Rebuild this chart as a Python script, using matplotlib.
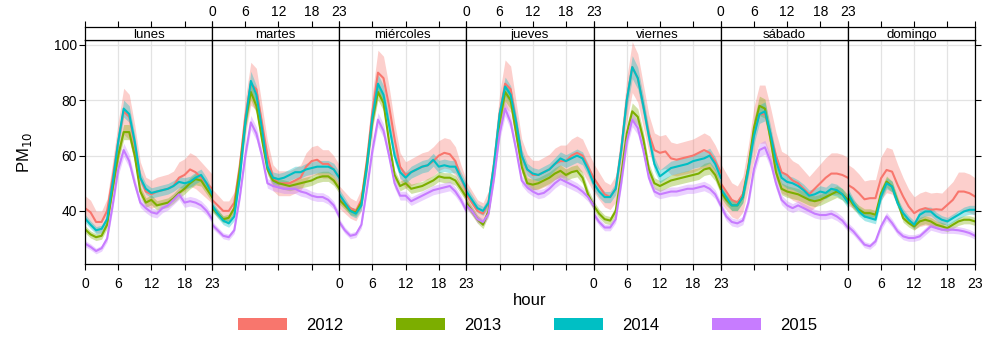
import matplotlib.pyplot as plt
from matplotlib.patches import Rectangle

plt.rcParams["font.family"] = ["Liberation Sans", "DejaVu Sans"]

# hourly PM10 means by weekday and year
days = ["lunes", "martes", "miércoles", "jueves", "viernes", "sábado", "domingo"]
hours = list(range(24))
years = ["2012", "2013", "2014", "2015"]
colors = ["#F8766D", "#7CAE00", "#00BFC4", "#C77CFF"]

pm_2012 = [
    [41, 39.5, 36, 36, 40, 52, 65, 76, 74, 64, 52, 47, 46, 47, 47.5, 48, 49, 52, 53, 55, 54, 52, 50, 48],
    [44, 42, 40, 40, 43, 56, 74, 86, 84, 72, 60, 52, 50, 50, 50, 51, 52, 56, 58, 58.5, 57, 57, 55, 52],
    [45, 43, 41, 40, 44, 58, 76, 90, 88, 78, 66, 56, 53, 54, 55, 56, 56.5, 58, 60, 61, 60.5, 58, 52, 47],
    [46, 43, 40, 39, 43, 57, 75, 86, 84, 72, 60, 55, 53, 53, 54, 55, 57, 58, 58, 60, 61, 60, 56, 52],
    [52, 49, 46, 45, 48, 62, 80, 92, 88, 78, 68, 62, 61, 61.5, 59, 58.5, 59, 59.5, 60, 61, 62, 61, 58, 54],
    [50, 47, 44, 43, 46, 56, 68, 75, 75, 68, 60, 54, 53, 51, 50, 48, 46, 48, 50, 52, 53.5, 53.5, 53, 52],
    [49.4, 48.2, 46.4, 44.2, 44.6, 44.6, 51.8, 54.8, 54.2, 49.4, 45.2, 41.6, 39.2, 40.4, 41, 40.4, 40.6, 40.4, 42.2, 44, 47, 47, 46.4, 45.2],
]
pm_2013 = [
    [33.4, 31.5, 30.5, 31, 35, 48, 60, 68.5, 68.5, 60, 47, 43, 44, 42, 42.5, 43, 44.5, 46.5, 48, 50, 51.5, 51, 48, 45],
    [41, 39, 37, 37.5, 41, 55, 72, 83, 78, 66, 55, 51, 50, 49.5, 49, 49.5, 50, 50.5, 51, 52, 52.5, 52.5, 51, 48],
    [44, 42, 40, 39.5, 43, 57, 73, 83, 79, 65, 53, 49, 50, 48, 48.5, 49, 50, 51, 52.5, 52, 52, 51, 48, 45],
    [43, 40, 37, 35, 40, 55, 72, 83, 80, 68, 56, 50, 49.5, 50, 51, 52, 53.5, 54.5, 53, 54, 54.5, 52, 46, 42],
    [42, 39, 37, 36.5, 40, 53, 68, 76, 74, 66, 55, 50, 49, 50, 51, 51.5, 52, 52.5, 53, 53.5, 55, 55.5, 53, 48],
    [47, 44, 42, 42, 45, 56, 70, 78, 77, 66, 54, 48, 47, 46.5, 46, 45, 44, 43.5, 44, 45, 46, 47, 46, 44],
    [45.2, 42.2, 40.4, 39.2, 39.2, 38.6, 46.4, 50.6, 48.8, 43.4, 37.4, 35.6, 34.4, 36.2, 36.8, 36.2, 35, 34.4, 33.8, 35, 36.2, 36.8, 36.8, 36.2],
]
pm_2014 = [
    [37.3, 35, 33, 33.5, 37, 50, 65, 77, 75, 65, 52, 48, 46.5, 47, 47.5, 48, 49, 50.5, 50, 50.5, 52, 53, 50, 46],
    [42, 39, 36.5, 35.5, 38, 52, 72, 87, 82, 70, 56, 52, 51.5, 52, 53, 54, 54, 55, 55.5, 56, 56, 56, 55, 52],
    [46, 43, 40, 39, 42, 56, 74, 86, 82, 71, 60, 54, 52, 54, 55, 56, 56.5, 58.5, 56, 56.5, 56, 56, 52, 48],
    [47, 44, 41, 40, 43, 57, 75, 85, 82, 72, 60, 55, 53.5, 53, 54, 55, 57, 59, 58, 59, 60, 59, 55, 50],
    [50, 47, 45, 45, 48, 62, 80, 92, 88, 78, 67, 57, 52.5, 54, 55.5, 56, 56.5, 57, 58, 58.5, 59, 60, 57, 52],
    [48, 45, 42, 42, 45, 55, 67, 75, 76, 68, 58, 52, 50.5, 50, 49, 47.5, 45.5, 46, 47, 46.5, 48, 47.5, 46, 43],
    [46.4, 42.8, 39.8, 38, 37.4, 36.8, 45.2, 50, 48.8, 42.8, 39.2, 36.8, 35, 38.6, 39.8, 39.8, 38, 36.8, 36.2, 37.4, 38.6, 39.8, 40.4, 40.4],
]
pm_2015 = [
    [28.2, 27, 25.5, 26.5, 30, 42, 55, 62, 58, 50, 43, 41, 39.5, 39, 41, 42, 44, 46, 43, 43.5, 43, 42, 40, 37],
    [35, 33, 31, 30.5, 33, 45, 60, 72, 68, 60, 50, 49, 48.5, 48, 48, 48, 47, 46.5, 45.5, 45, 45, 44, 42, 38],
    [36, 33, 31, 31.5, 35, 48, 62, 73, 69, 60, 50, 45.5, 45.5, 43.5, 44.5, 45.5, 46.5, 47.5, 48, 48.5, 49, 47, 44, 40],
    [42, 40, 37, 36, 39, 52, 68, 77, 72, 62, 51, 48.5, 47, 46, 46.5, 48, 50, 51.5, 50.5, 49.5, 48.5, 47, 45, 42],
    [39, 36, 34, 34, 37, 50, 65, 73, 70, 62, 52, 47, 46, 46.5, 47, 47, 47.5, 48, 48, 48.5, 49, 48, 46, 42],
    [42, 38, 36, 35.5, 36.5, 43, 55, 62, 63, 58, 50, 44, 42, 41, 42, 41, 40, 39, 38.5, 38.5, 39, 38, 36.5, 34],
    [34.4, 32.6, 30.2, 27.8, 27.2, 29, 34.4, 38, 35.6, 32.6, 30.8, 30.2, 30.2, 30.8, 32.6, 34.4, 33.8, 33.2, 33.2, 33.2, 33, 32.6, 32, 31],
]
all_pm = [pm_2012, pm_2013, pm_2014, pm_2015]

# relative half-width of the confidence band, per year and weekday
ci_2012 = [0.11, 0.09, 0.09, 0.10, 0.10, 0.14, 0.15]
ci_2013 = [0.04, 0.035, 0.035, 0.04, 0.04, 0.045, 0.04]
ci_2014 = [0.04, 0.04, 0.04, 0.04, 0.045, 0.045, 0.04]
ci_2015 = [0.04, 0.035, 0.035, 0.035, 0.035, 0.04, 0.04]
all_ci = [ci_2012, ci_2013, ci_2014, ci_2015]

W, H = 994, 339
fig = plt.figure(figsize=(W / 100, H / 100), dpi=100)

left_px, right_px = 85, 975
top_px, bottom_px, strip_px = 40, 264, 13
pw = (right_px - left_px) / 7

for d, day in enumerate(days):
    x0 = (left_px + d * pw) / W
    ax = fig.add_axes([x0, 1 - bottom_px / H, pw / W, (bottom_px - top_px) / H])
    for yi in range(len(years)):
        vals = all_pm[yi][d]
        rel = all_ci[yi][d]
        lo = [v * (1 - rel) for v in vals]
        hi = [v * (1 + rel) for v in vals]
        ax.fill_between(hours, lo, hi, color=colors[yi], alpha=0.35, lw=0)
    for yi in range(len(years)):
        ax.plot(hours, all_pm[yi][d], color=colors[yi], lw=1.5)

    ax.set_xlim(0, 23)
    ax.set_ylim(20.8, 101.8)
    ax.set_xticks([0, 6, 12, 18, 23])
    ax.set_yticks([40, 60, 80, 100])
    ax.grid(True, color="#e3e3e3", lw=0.9)
    ax.set_axisbelow(True)
    for sp in ax.spines.values():
        sp.set_linewidth(0.9)
    ax.tick_params(axis="both", direction="out", length=4, width=0.8,
                   labelsize=10, pad=2)
    ax.tick_params(axis="x", pad=5)
    ax.tick_params(axis="y", left=(d == 0), right=(d == 6),
                   labelleft=(d == 0), labelright=False)
    ax.tick_params(axis="x", labelbottom=(d % 2 == 0))
    if d == 0:
        ax.set_ylabel("PM$_{10}$", fontsize=12, labelpad=14)
    if d == 3:
        ax.set_xlabel("hour", fontsize=12, labelpad=17)

    # strip header with top tick marks
    sax = fig.add_axes([x0, 1 - top_px / H, pw / W, strip_px / H])
    sax.set_xlim(0, 23)
    sax.set_ylim(0, 1)
    sax.set_yticks([])
    sax.set_xticks([0, 6, 12, 18, 23])
    sax.tick_params(axis="x", bottom=False, labelbottom=False, top=True,
                    labeltop=(d % 2 == 1), direction="out", length=4,
                    width=0.8, labelsize=10, pad=2)
    for sp in sax.spines.values():
        sp.set_linewidth(0.9)
    sax.text(11.5, 0.42, day, ha="center", va="center", fontsize=9.5)

# legend along the bottom
for yi, year in enumerate(years):
    rx = 238 + yi * 158
    fig.add_artist(Rectangle((rx / W, 1 - 330 / H), 49 / W, 12 / H,
                             transform=fig.transFigure, color=colors[yi], lw=0))
    fig.text((rx + 68) / W, 1 - 325 / H, year, ha="left", va="center", fontsize=12)

plt.savefig("out.png", dpi=100)
